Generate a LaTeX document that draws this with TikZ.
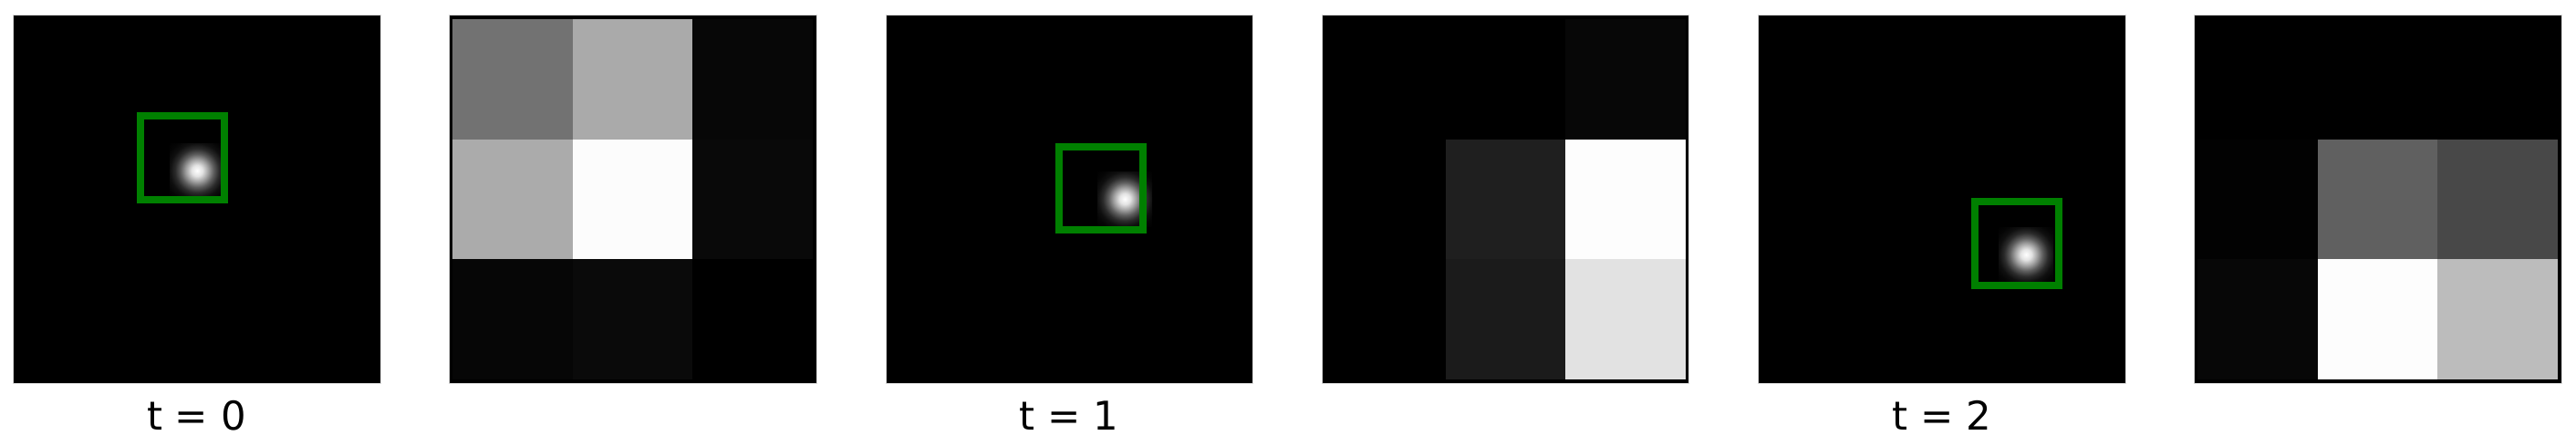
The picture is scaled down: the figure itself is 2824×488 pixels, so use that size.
\documentclass[tikz,border=0pt]{standalone}
\usepackage{fontspec}
\setmainfont{DejaVu Sans}
\pgfdeclareradialshading{blob}{\pgfpoint{0bp}{0bp}}{color(0bp)=(white); color(5bp)=(white!89!black); color(10bp)=(white!64!black); color(15bp)=(white!37!black); color(20bp)=(white!17!black); color(25bp)=(white!6!black); color(30bp)=(white!2!black); color(36bp)=(black); color(50bp)=(black)}
\tikzset{
  panel/.style={fill=black, draw=black!15, line width=0.5pt},
  target/.style={draw={rgb,255:red,0;green,128;blue,0}, line width=4pt},
  lbl/.style={font=\fontsize{21.7}{26}\selectfont, anchor=base, inner sep=0pt},
  spot/.style={shading=blob},
}
\newcommand{\gcell}[3]{\fill[fill={rgb,255:red,#3;green,#3;blue,#3}] (#1,#2) rectangle ++(131.7,131.7);}
\newcommand{\gridrow}[5]{\gcell{#1}{#2}{#3}\gcell{#1+131.7}{#2}{#4}\gcell{#1+263.4}{#2}{#5}}
\begin{document}
\begin{tikzpicture}[x=0.5pt,y=-0.5pt]
\useasboundingbox (0,0) rectangle (2824,488);
% panel 1
\draw[panel] (14,16) rectangle (417,420);
\begin{scope}
\clip (14,16) rectangle (417,420);
\fill[spot] (186,157) rectangle (246,217);
\end{scope}
\draw[target] (154,127) rectangle (246,219);
\node[lbl] (l0) at (215.5,471) {t = 0};
% panel 2
\draw[panel] (492,16) rectangle (895,420);
\gridrow{496}{21}{114}{170}{7}
\gridrow{496}{152.7}{171}{252}{9}
\gridrow{496}{284.4}{6}{10}{0}
% panel 3
\draw[panel] (971,16) rectangle (1373,420);
\begin{scope}
\clip (971,16) rectangle (1373,420);
\fill[spot] (1203,188) rectangle (1263,248);
\end{scope}
\draw[target] (1161,161) rectangle (1253,252);
\node[lbl] (l1) at (1172,471) {t = 1};
% panel 4
\draw[panel] (1449,16) rectangle (1851,420);
\gridrow{1453}{21}{0}{0}{7}
\gridrow{1453}{152.7}{0}{31}{253}
\gridrow{1453}{284.4}{0}{27}{226}
% panel 5
\draw[panel] (1927,16) rectangle (2330,420);
\begin{scope}
\clip (1927,16) rectangle (2330,420);
\fill[spot] (2191,249) rectangle (2251,309);
\end{scope}
\draw[target] (2165,221) rectangle (2257,313);
\node[lbl] (l2) at (2128.5,471) {t = 2};
% panel 6
\draw[panel] (2405,16) rectangle (2808,420);
\gridrow{2409}{21}{0}{0}{0}
\gridrow{2409}{152.7}{2}{96}{72}
\gridrow{2409}{284.4}{7}{253}{188}
\end{tikzpicture}
\end{document}
